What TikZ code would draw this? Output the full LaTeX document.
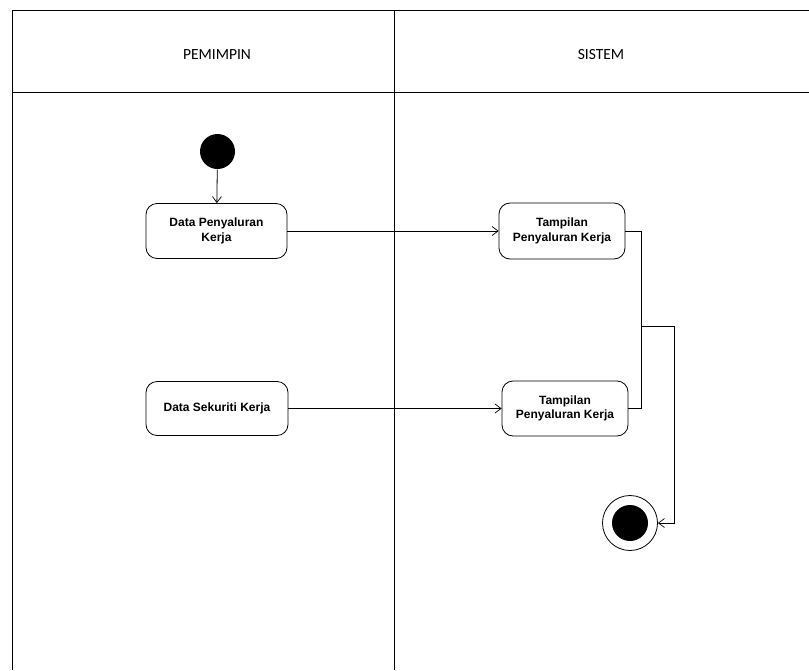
\documentclass[tikz,border=0pt]{standalone}
\usepackage{fontspec}
\setmainfont{Carlito}
\newfontfamily\boxfont{Liberation Sans}
\usetikzlibrary{arrows.meta,positioning}

\begin{document}
\begin{tikzpicture}[x=1pt,y=-1pt,line width=0.8pt,
	>={Straight Barb[length=6pt,width=9pt,line width=0.7pt]},
	aksi/.style={draw,rounded corners=11pt,align=center,inner sep=0pt,font=\boxfont\bfseries\fontsize{12}{14.5}\selectfont},
	mulai/.style={circle,fill=black,minimum size=35pt,inner sep=0pt},
	lane/.style={font=\fontsize{15.5}{18}\selectfont}]
	\useasboundingbox (0,0) rectangle (809,670);
	% swimlanes
	\draw (12,670) -- (12,10) -- (809,10);
	\draw (12,92) -- (809,92);
	\draw (394,10) -- (394,670);
	\node[lane] (L1) at (217,55) {PEMIMPIN};
	\node[lane] (L2) at (601,55) {SISTEM};

	\node[mulai] (S) at (217.5,151.5) {};
	\node[aksi,minimum width=141pt,minimum height=55pt] (A1) at (216.5,231) {Data Penyaluran\\Kerja};
	\node[aksi,minimum width=126pt,minimum height=56pt] (B1) at (562,231) {Tampilan\\Penyaluran Kerja};
	\node[aksi,minimum width=142pt,minimum height=54pt] (A2) at (217,408.5) {Data Sekuriti Kerja};
	\node[aksi,minimum width=126pt,minimum height=55pt] (B2) at (565,408.5) {Tampilan\\Penyaluran Kerja};
	\node[draw,circle,minimum size=55pt,inner sep=0pt] (E) at (630,523) {};
	\node[mulai,minimum size=36pt] (Ei) at (E) {};

	\coordinate (J) at (641,326);
	\coordinate (K) at (674,326);

	\path[->]
		(S) edge (A1)
		(A1) edge (B1)
		(A2) edge (B2);
	\draw (B1.east) -| (J);
	\draw (B2.east) -| (J);
	\draw[->] (J) -- (K) |- (E.east);
\end{tikzpicture}
\end{document}
